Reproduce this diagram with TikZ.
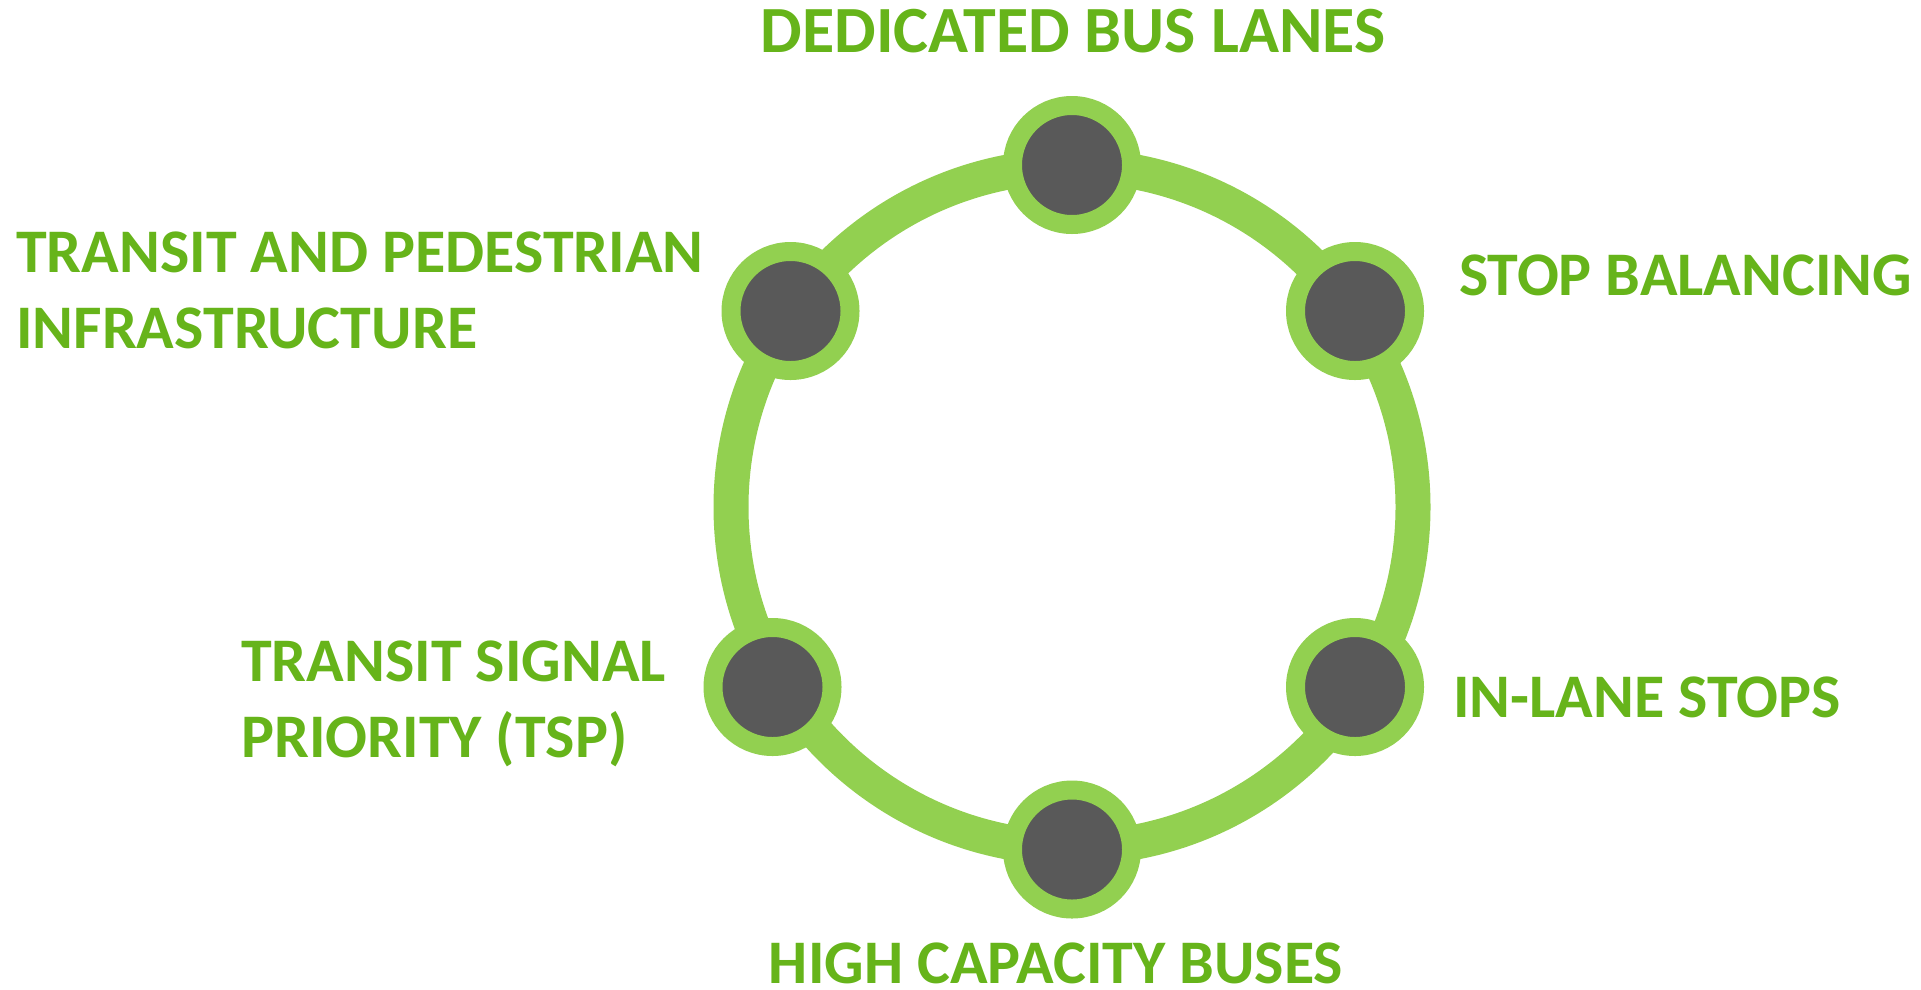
\documentclass[tikz,border=0pt]{standalone}
\usepackage{fontspec}
\setmainfont{Carlito}
\definecolor{ringgreen}{HTML}{92D050}
\definecolor{txtgreen}{HTML}{66B41A}
\definecolor{darkdot}{HTML}{595959}
\begin{document}
\begin{tikzpicture}[x=1pt,y=-1pt,
  ring/.style={draw=ringgreen,line width=35pt},
  stopdot/.style={circle,fill=darkdot,draw=ringgreen,line width=19pt,minimum size=119pt,inner sep=0pt},
  lbl/.style={text=txtgreen,font=\fontsize{62}{76}\selectfont\bfseries,inner sep=0pt,align=left}]
\useasboundingbox (0,0) rectangle (1921,989);
\coordinate (c) at (1072,507);
\draw[ring] (c) circle[radius=341];
\node[stopdot] (top) at (1072,165) {};
\node[stopdot] (tl) at (790.5,311) {};
\node[stopdot] (tr) at (1355,311) {};
\node[stopdot] (bl) at (772.5,687) {};
\node[stopdot] (br) at (1355,687) {};
\node[stopdot] (bot) at (1072,849.5) {};
\node[lbl,anchor=base,font=\fontsize{66}{80}\selectfont\bfseries] (ltop) at (1073,52) {DEDICATED BUS LANES};
\node[lbl,anchor=base west] (ltl) at (16,348) {TRANSIT AND PEDESTRIAN\\INFRASTRUCTURE};
\node[lbl,anchor=base west] (ltr) at (1459,295) {STOP BALANCING};
\node[lbl,anchor=base west] (lbl) at (241,757) {TRANSIT SIGNAL\\PRIORITY (TSP)};
\node[lbl,anchor=base west] (lbr) at (1453,717) {IN-LANE STOPS};
\node[lbl,anchor=base] (lbot) at (1056,983) {HIGH CAPACITY BUSES};
\end{tikzpicture}
\end{document}
